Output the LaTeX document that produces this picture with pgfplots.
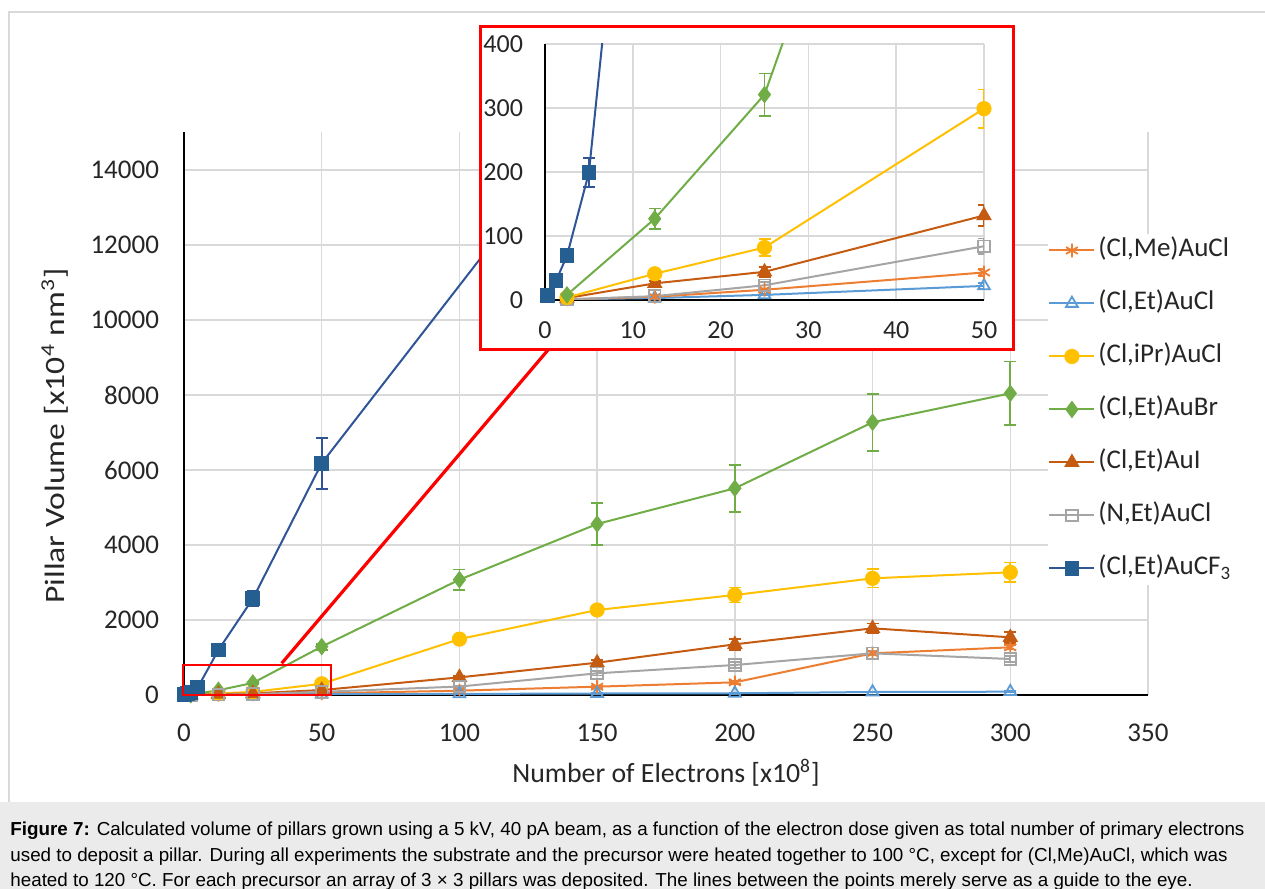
\documentclass[border=0pt]{standalone}
\usepackage{fontspec}
\setmainfont{Carlito}
\newfontfamily\capfont{Liberation Sans}
\usepackage{graphicx}
\usepackage{pgfplots}
\usepackage{pgfplotstable}
\pgfplotsset{compat=1.18}
\definecolor{cMe}{HTML}{ED7D31}
\definecolor{cEt}{HTML}{5B9BD5}
\definecolor{ciPr}{HTML}{FFC000}
\definecolor{cBr}{HTML}{70AD47}
\definecolor{cI}{HTML}{C55A11}
\definecolor{cN}{HTML}{A5A5A5}
\definecolor{cCF}{HTML}{2F5597}
\definecolor{cCFm}{HTML}{255E91}
\definecolor{gridgray}{HTML}{D9D9D9}
\definecolor{capgray}{HTML}{EBEBEB}
\definecolor{bordergray}{HTML}{D9D9D9}

\pgfplotstableread{
x y e
2.5 1 0.5
12.5 5 1
25 16 2
50 43 5
100 115 15
150 222 30
200 338 40
250 1111 60
300 1271 60
}\tMe
\pgfplotstableread{
x y e
2.5 1 0.5
12.5 3 1
25 8 1
50 22 4
100 28 5
150 40 6
200 45 8
250 80 10
300 88 12
}\tEt
\pgfplotstableread{
x y e
2.5 4 1
12.5 41 5
25 82 13
50 299 30
100 1490 60
150 2267 100
200 2667 200
250 3111 245
300 3271 260
}\tiPr
\pgfplotstableread{
x y e
2.5 8 2
12.5 127 16
25 321 33
50 1290 80
100 3075 270
150 4560 555
200 5512 625
250 7272 765
300 8044 850
}\tBr
\pgfplotstableread{
x y e
2.5 3 1
12.5 26 4
25 44 8
50 132 17
100 470 40
150 861 70
200 1351 150
250 1778 130
300 1538 150
}\tI
\pgfplotstableread{
x y e
2.5 1 1
12.5 6 2
25 23 5
50 84 12
100 225 30
150 578 60
200 800 80
250 1111 60
300 960 80
}\tN
\pgfplotstableread{
x y e
0.25 7 1
1.25 30 3
2.5 69 5
5 199 23
12.5 1200 60
25 2570 200
50 6180 680
}\tCF
\pgfplotstableread{
x y e
50 6180 0
150 15660 0
}\tCFext

\pgfplotsset{
  ebar/.style={error bars/y dir=both, error bars/y explicit,
    error bars/error bar style={line width=0.9pt},
    error bars/error mark options={rotate=90, mark size=3pt, line width=0.9pt}},
  sMe/.style={cMe, line width=1pt, mark=asterisk, mark size=3.4pt, mark options={line width=0.9pt}},
  sEt/.style={cEt, line width=1pt, mark=triangle, mark size=3.4pt, mark options={fill=white, line width=0.9pt}},
  siPr/.style={ciPr, line width=1pt, mark=*, mark size=3.3pt},
  sBr/.style={cBr, line width=1pt, mark=diamond*, mark size=3.6pt},
  sI/.style={cI, line width=1pt, mark=triangle*, mark size=3.5pt},
  sN/.style={cN, line width=1pt, mark=square, mark size=2.9pt, mark options={fill=white, line width=0.9pt}},
  sCF/.style={cCF, line width=1pt, mark=square*, mark size=3.2pt, mark options={fill=cCFm, draw=cCFm}},
}

\begin{document}
\begin{tikzpicture}[x=1pt,y=1pt]
\path[use as bounding box] (0,0) rectangle (632.5,444.5);
\fill[white] (0,0) rectangle (632.5,444.5);
\fill[capgray] (0,0) rectangle (632.5,43.5);
\draw[bordergray, line width=0.6pt] (4.5,43.5) -- (4.5,438.5) -- (640,438.5);

\begin{axis}[
  at={(92pt,97pt)}, anchor=south west, scale only axis,
  width=482pt, height=281.25pt,
  xmin=0, xmax=350, ymin=0, ymax=15000,
  xtick={0,50,...,350}, ytick={0,2000,...,14000},
  scaled y ticks=false, scaled x ticks=false,
  axis x line=bottom, axis y line=left,
  axis line style={-, black, line width=0.9pt},
  grid=major, major grid style={draw=gridgray, line width=0.75pt},
  major tick length=0pt,
  /pgf/number format/assume math mode=true,
  /pgf/number format/set thousands separator={},
  ticklabel style={font=\fontsize{13.5}{16}\selectfont, text=black!85},
  yticklabel style={xshift=-9pt},
  xticklabel style={yshift=-11pt},
  xlabel={Number of Electrons [x10\textsuperscript{8}]},
  ylabel={\scalebox{1.2}[1]{Pillar Volume [x10\textsuperscript{4} nm\textsuperscript{3}]}},
  xlabel style={font=\fontsize{13.9}{16}\selectfont, text=black!85, at={(axis description cs:0.5,-0.1387)}, anchor=center},
  ylabel style={font=\fontsize{14}{16}\selectfont, text=black!85, at={(axis description cs:-0.1338,0.4604)}, anchor=center},
  legend style={at={(axis description cs:0.8963,0.5076)}, anchor=west,
    draw=none, fill=white, inner sep=0pt, row sep=10pt,
    font=\fontsize{13.5}{16}\selectfont, text=black!85,
    nodes={inner sep=1.5pt, text height=10pt, text depth=3.5pt}},
  legend cell align=left,
  legend image code/.code={\draw[mark repeat=2,mark phase=2,#1] plot coordinates {(0pt,0pt) (11.25pt,0pt) (22.5pt,0pt)};},
]
\addplot[sMe, ebar] table[x=x,y=y,y error=e] {\tMe};
\addlegendentry{(Cl,Me)AuCl}
\addplot[sEt, ebar] table[x=x,y=y,y error=e] {\tEt};
\addlegendentry{(Cl,Et)AuCl}
\addplot[siPr, ebar] table[x=x,y=y,y error=e] {\tiPr};
\addlegendentry{(Cl,iPr)AuCl}
\addplot[sBr, ebar] table[x=x,y=y,y error=e] {\tBr};
\addlegendentry{(Cl,Et)AuBr}
\addplot[sI, ebar] table[x=x,y=y,y error=e] {\tI};
\addlegendentry{(Cl,Et)AuI}
\addplot[sN, ebar] table[x=x,y=y,y error=e] {\tN};
\addlegendentry{(N,Et)AuCl}
\addplot[cCF, line width=1pt, no marks, forget plot] table[x=x,y=y] {\tCFext};
\addplot[sCF, ebar] table[x=x,y=y,y error=e] {\tCF};
\addlegendentry{(Cl,Et)AuCF\textsubscript{3}}
\end{axis}

% zoom indicator
\draw[red, line width=1pt] (91.5,97) rectangle (165.5,112);
\draw[red, line width=1.6pt] (140.85,112.85) -- (274,269.5);
% inset frame
\draw[red, line width=1.5pt, fill=white] (240,269.5) rectangle (506.5,431);

\begin{axis}[
  at={(272.5pt,294.5pt)}, anchor=south west, scale only axis,
  width=219.5pt, height=128pt,
  xmin=0, xmax=50, ymin=0, ymax=400,
  xtick={0,10,...,50}, ytick={0,100,...,400},
  scaled y ticks=false, scaled x ticks=false,
  axis x line=bottom, axis y line=left,
  axis line style={-, black, line width=1pt},
  grid=major, major grid style={draw=gridgray, line width=0.75pt},
  major tick length=0pt,
  /pgf/number format/assume math mode=true,
  ticklabel style={font=\fontsize{13}{15}\selectfont, text=black!85},
  yticklabel style={xshift=-7.5pt},
  xticklabel style={yshift=-7.5pt},
  restrict x to domain=0:50,
]
\addplot[sCF, no marks] table[x=x,y=y] {\tCF};
\addplot[sBr, no marks] table[x=x,y=y] {\tBr};
\addplot[sEt, ebar] table[x=x,y=y,y error=e] {\tEt};
\addplot[sMe, ebar] table[x=x,y=y,y error=e] {\tMe};
\addplot[sN, ebar] table[x=x,y=y,y error=e] {\tN};
\addplot[sI, ebar] table[x=x,y=y,y error=e] {\tI};
\addplot[siPr, ebar] table[x=x,y=y,y error=e] {\tiPr};
\addplot[sBr, only marks, restrict y to domain=-10:400, ebar] table[x=x,y=y,y error=e] {\tBr};
\addplot[sCF, only marks, restrict y to domain=-10:400, ebar] table[x=x,y=y,y error=e] {\tCF};
\end{axis}

% caption
\begin{scope}[every node/.style={anchor=base west, inner sep=0pt, font=\capfont\fontsize{9.4}{10}\selectfont}]
\node at (5,26.6) {\textbf{Figure 7:} Calculated volume of pillars grown using a 5 kV, 40 pA beam, as a function of the electron dose given as total number of primary electrons};
\node at (5,13.9) {used to deposit a pillar. During all experiments the substrate and the precursor were heated together to 100 °C, except for (Cl,Me)AuCl, which was};
\node at (5,1.4) {heated to 120 °C. For each precursor an array of 3 × 3 pillars was deposited. The lines between the points merely serve as a guide to the eye.};
\end{scope}
\end{tikzpicture}
\end{document}
